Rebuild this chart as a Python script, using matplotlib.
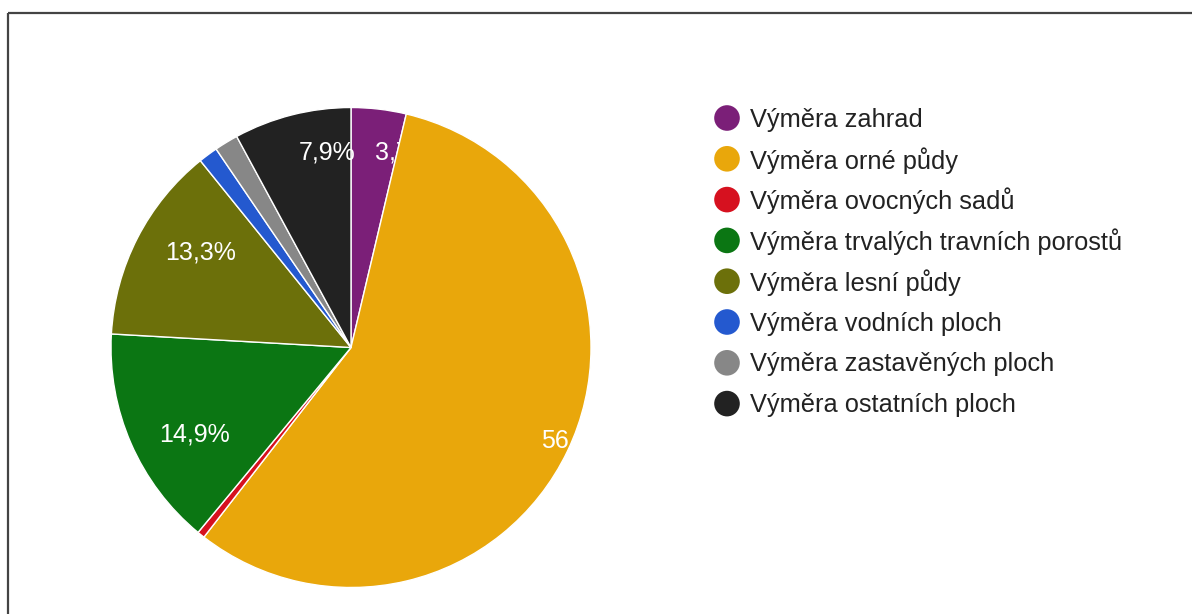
import numpy as np
import matplotlib.pyplot as plt

plt.rcParams['font.family'] = ['Liberation Sans', 'DejaVu Sans']

# data (shares in %)
categories = [
    "Výměra zahrad",
    "Výměra orné půdy",
    "Výměra ovocných sadů",
    "Výměra trvalých travních porostů",
    "Výměra lesní půdy",
    "Výměra vodních ploch",
    "Výměra zastavěných ploch",
    "Výměra ostatních ploch",
]
shares = [3.7, 56.8, 0.5, 14.9, 13.3, 1.3, 1.6, 7.9]
colors = ["#7b1f78", "#e9a70b", "#d6111f", "#0b7613", "#6c700a",
          "#2459cf", "#878787", "#222222"]

# label placement (radius factor, angle shift in degrees) per slice
label_r = [0.85, 1.01, 0, 0.74, 0.745, 0, 0, 0.83]
label_shift = [8.2, -3.7, 0, -4.8, 5.8, 0, 0, 7.4]

W, H = 1192, 614
fig = plt.figure(figsize=(W / 100, H / 100), dpi=100)

# pie: centre (351, 347.5) px, radius 240 px
cx, cy, R = 351, 347.5, 240
ax = fig.add_axes([(cx - R) / W, (H - cy - R) / H, 2 * R / W, 2 * R / H])
wedges, _ = ax.pie(shares, colors=colors, startangle=90, counterclock=False,
                   radius=1, wedgeprops=dict(edgecolor="white", linewidth=1.0))
ax.set_xlim(-1, 1)
ax.set_ylim(-1, 1)
ax.set_aspect("equal")
ax.axis("off")

# each label sits just above its own slice, later slices cover overflow
cum = np.cumsum([0] + shares)
total = cum[-1]
for i, w in enumerate(wedges):
    w.set_zorder(2 * i + 1)
    if shares[i] < 3:
        continue
    mid = (cum[i] + cum[i + 1]) / 2 / total * 360 + label_shift[i]
    th = np.deg2rad(mid)
    x, y = label_r[i] * np.sin(th), label_r[i] * np.cos(th)
    txt = f"{shares[i]:.1f}".replace(".", ",") + "%"
    ax.text(x, y, txt, ha="center", va="center_baseline", color="white",
            fontsize=18, zorder=2 * i + 2, clip_on=False)

# legend drawn in a pixel-coordinate overlay
ov = fig.add_axes([0, 0, 1, 1])
ov.set_xlim(0, W)
ov.set_ylim(H, 0)
ov.axis("off")
for i, (lab, c) in enumerate(zip(categories, colors)):
    ry = 118 + i * 40.8
    ov.scatter([727], [ry], s=340, color=c, edgecolors="none")
    ov.text(750, ry - 1, lab, ha="left", va="center_baseline", fontsize=18.3,
            color="#222222")

# frame lines (left and top)
ov.plot([7.5, 7.5], [12.5, H], color="#444444", lw=1.6, solid_capstyle="butt")
ov.plot([7.5, W], [12.5, 12.5], color="#444444", lw=1.6, solid_capstyle="butt")

fig.savefig("out.png", dpi=100, facecolor="white")
